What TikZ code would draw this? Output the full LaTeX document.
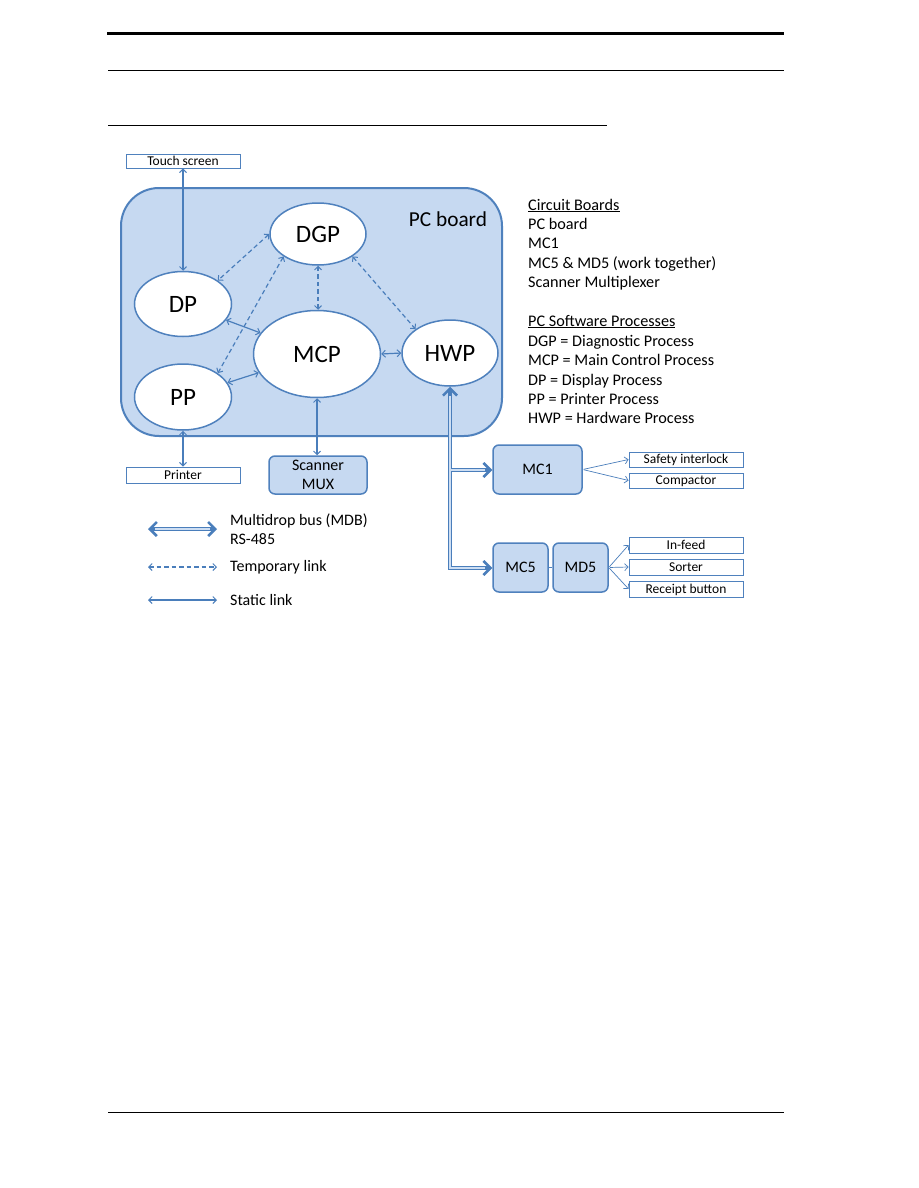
\documentclass[tikz,border=0pt]{standalone}
\usepackage{fontspec}
\setmainfont{Carlito}
\usetikzlibrary{shapes.geometric,arrows.meta}
\definecolor{edge}{RGB}{79,129,189}
\definecolor{fillb}{RGB}{198,217,241}
\definecolor{linkc}{RGB}{74,126,187}
\definecolor{businner}{RGB}{205,222,243}
\tikzset{
  proc/.style={ellipse, draw=edge, line width=1.5pt, fill=white, inner sep=0pt, font=\fontsize{25}{28}\selectfont},
  boardbox/.style={draw=edge, fill=fillb, line width=2pt, rounded corners=38pt, inner sep=0pt},
  bluebox/.style={draw=edge, fill=fillb, line width=1.5pt, rounded corners=6pt, inner sep=0pt, font=\fontsize{16}{19}\selectfont, align=center},
  devbox/.style={draw=edge, fill=white, line width=0.8pt, inner sep=0pt, minimum width=114pt, text height=11pt, text depth=2.4pt, font=\fontsize{13.5}{15}\selectfont},
  tipsm/.tip={Straight Barb[length=3.5pt,width=7pt,line width=1pt]},
  slink/.style={draw=linkc, line width=1.2pt, tipsm-tipsm},
  tlink/.style={slink, dash pattern=on 4.5pt off 3pt},
  dlink/.style={draw=linkc, line width=0.7pt, -{Straight Barb[length=3.5pt,width=7pt,line width=0.7pt]}, shorten <=1pt},
  bustip/.tip={Straight Barb[length=7pt,width=14pt,line width=2.6pt]},
  busout/.style={draw=linkc, line width=4.2pt, line join=miter},
  busin/.style={draw=businner, line width=1.6pt, line join=miter},
  txt/.style={anchor=base west, inner sep=0pt, font=\fontsize{16.2}{18}\selectfont},
  legtxt/.style={anchor=west, inner sep=0pt, align=left, font=\fontsize{16}{18.5}\selectfont},
}
\begin{document}
\begin{tikzpicture}[x=1pt,y=-1pt]
\useasboundingbox (0,0) rectangle (918,1188);
\fill[white] (0,0) rectangle (918,1188);

% page rules
\draw[line width=3pt] (107,34) -- (784,34);
\draw[line width=1pt] (108,71) -- (784,71);
\draw[line width=1pt] (108,126) -- (607,126);
\draw[line width=1pt] (108,1112) -- (784,1112);

% PC board
\node[boardbox, minimum width=381pt, minimum height=248pt] (PC) at (311.5,312) {};
\node[inner sep=0pt, font=\fontsize{21.3}{23}\selectfont] (PCl) at (448,219) {PC board};

% processes
\node[proc, minimum width=96pt, minimum height=62pt] (DGP) at (318,234) {DGP};
\node[proc, minimum width=97pt, minimum height=65pt] (DP) at (183,304) {DP};
\node[proc, minimum width=127pt, minimum height=87pt] (MCP) at (317,354) {MCP};
\node[proc, minimum width=96pt, minimum height=66pt] (HWP) at (450,353) {HWP};
\node[proc, minimum width=97pt, minimum height=66pt] (PP) at (183,397) {PP};

% external devices
\node[devbox, minimum height=14pt] (TS) at (183,161) {Touch screen};
\node[devbox, minimum height=16pt] (PR) at (183,475) {Printer};
\node[bluebox, minimum width=98pt, minimum height=38pt] (SM) at (318,475) {Scanner\\MUX};

\node[bluebox, minimum width=89pt, minimum height=49pt] (MC1) at (537.5,469.5) {MC1};
\node[bluebox, minimum width=55pt, minimum height=49pt] (MC5) at (520.5,567.5) {MC5};
\node[bluebox, minimum width=55pt, minimum height=49pt] (MD5) at (580.5,567.5) {MD5};

\node[devbox, minimum height=15pt] (SI) at (686,459.5) {Safety interlock};
\node[devbox, minimum height=15pt] (CO) at (686,480.5) {Compactor};
\node[devbox, minimum height=16pt] (IF) at (686,545) {In-feed};
\node[devbox, minimum height=16pt] (SO) at (686,567) {Sorter};
\node[devbox, minimum height=16pt] (RB) at (686,589) {Receipt button};

% static links
\draw[slink] (TS.south) -- (DP.north);
\draw[slink] (PP.south) -- (PR.north);
\draw[slink] (MCP.south) -- (MCP.south |- SM.north);
\draw[slink] (DP) -- (MCP);
\draw[slink] (PP) -- (MCP);
\draw[slink] (MCP.east) -- (HWP.west);

% temporary links
\draw[tlink] (DGP.west) -- (DP.north east);
\draw[tlink] (DGP.south west) -- (PP.north east);
\draw[tlink] (DGP.south) -- (DGP.south |- MCP.north);
\draw[tlink] (DGP.south east) -- (HWP.north west);

% board to device links
\draw[dlink] (MC1.east) -- (SI.west);
\draw[dlink] (MC1.east) -- (CO.west);
\draw[dlink] (MD5.east) -- (IF.west);
\draw[dlink] (MD5.east) -- (SO.west);
\draw[dlink] (MD5.east) -- (RB.west);
\draw[draw=edge, line width=0.8pt] (MC5.east) -- (MD5.west);

% multidrop bus
\coordinate (bj1) at (450,470);
\coordinate (bj2) at (450,568);
\draw[busout, bustip-bustip] (HWP.south) -- (bj2) -- (bj2 -| MC5.west);
\draw[busout, -bustip] (bj1) -- (bj1 -| MC1.west);
\draw[busin, shorten >=7pt] (bj1) -- (bj1 -| MC1.west);
\draw[busin, shorten <=9pt, shorten >=7pt] (HWP.south) -- (bj2) -- (bj2 -| MC5.west);

% legend
\coordinate (la1) at (148,529); \coordinate (lb1) at (217,529);
\coordinate (la2) at (148,567); \coordinate (lb2) at (217,567);
\coordinate (la3) at (148,600); \coordinate (lb3) at (217,600);
\draw[busout, bustip-bustip] (la1) -- (lb1);
\draw[busin, shorten <=7pt, shorten >=7pt] (la1) -- (lb1);
\draw[tlink] (la2) -- (lb2);
\draw[slink] (la3) -- (lb3);
\node[legtxt] (lt1) at (230,529) {Multidrop bus (MDB)\\RS-485};
\node[legtxt] (lt2) at (230,567) {Temporary link};
\node[legtxt] (lt3) at (230,600) {Static link};

% right text block
\node[txt] (r1) at (528,210) {\underline{Circuit Boards}};
\node[txt] (r2) at (528,229) {PC board};
\node[txt] (r3) at (528,248) {MC1};
\node[txt] (r4) at (528,268) {MC5 \& MD5 (work together)};
\node[txt] (r5) at (528,287) {Scanner Multiplexer};
\node[txt] (r6) at (528,326) {\underline{PC Software Processes}};
\node[txt] (r7) at (528,346) {DGP = Diagnostic Process};
\node[txt] (r8) at (528,365) {MCP = Main Control Process};
\node[txt] (r9) at (528,385) {DP = Display Process};
\node[txt] (r10) at (528,404) {PP = Printer Process};
\node[txt] (r11) at (528,423) {HWP = Hardware Process};
\end{tikzpicture}
\end{document}
